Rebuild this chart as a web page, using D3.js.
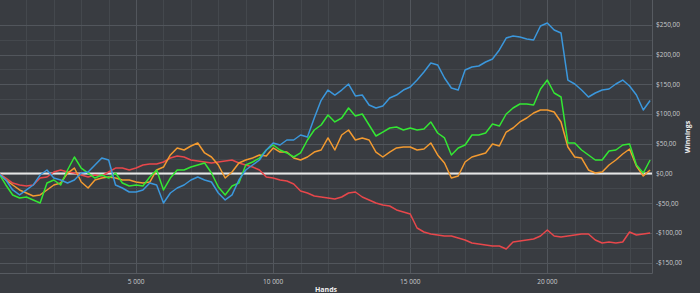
<!DOCTYPE html>
<html>
<head>
<meta charset="utf-8">
<script src="https://cdn.jsdelivr.net/npm/d3@7"></script>
<style>
  body { margin: 0; background: #393c41; }
  svg { display: block; }
  .tick-label { font-family: 'Open Sans', sans-serif; font-size: 6.5px; fill: #c9cbcd; }
  .axis-title { font-family: 'Open Sans', sans-serif; font-size: 7px; font-weight: bold; fill: #f0f0f0; }
</style>
</head>
<body>
<svg width="700" height="293"></svg>
<script>
var svg = d3.select('svg');
var svgWidth = +svg.attr('width');
var svgHeight = +svg.attr('height');

// plot box
var plot = {l: 0, t: 0, r: 652, b: 273};

// hands, sampled every 250 hands
var hands = d3.range(0, 24000, 250);

var blueWin = [0, -10.9, -27.7, -36, -27.7, -19.3, -2.5, 5.9, -7.6, -10.9,
  -16, -10.9, 0.8, 2.5, 14.3, 26, 22.7, -19.3, -24.4, -31.1,
  -31.1, -27.7, -16, -19.3, -49.6, -32.8, -24.4, -19.3, -10.9, -5.9,
  -10.9, -14.3, -32.8, -44.5, -36, -10.9, 5.9, 14.3, 22.7, 39.5,
  51.3, 47.9, 56.3, 56.3, 64.7, 61.3, 93.3, 123, 140.3, 131.9,
  140.3, 150.4, 130.3, 131.9, 115.1, 110, 113.4, 126.9, 131.9, 140.3,
  145.4, 157.1, 170.6, 185.7, 182.4, 160.5, 143.7, 140.3, 173.9, 179,
  180.7, 187.4, 192.4, 207.6, 227.7, 231.1, 229.4, 226.1, 224.4, 247.9,
  252.9, 241.2, 236.1, 157.1, 150.4, 140.3, 128.6, 135.3, 140.3, 142,
  150.4, 157.1, 147.1, 131.9, 106.7, 122.7];

var greenWin = [0, -19.3, -36.1, -41.2, -39.5, -44.5, -49.6, -16, -10.9, -19.3,
  5.9, 27.7, 9.2, 0.8, -7.6, -2.5, -7.6, 0.8, -16, -21,
  -19.3, -21, -5.9, 5.9, -27.7, -7.6, 5.9, 5.9, 10.9, 14.3,
  17.6, 0.8, -22.7, -36.1, -21, -16, 14.3, 19.3, 26, 39.5,
  47.9, 39.5, 34.5, 27.7, 34.5, 56.3, 73.1, 81.5, 98.3, 86.6,
  93.3, 110.1, 96.6, 100, 81.5, 63, 69.7, 76.5, 78.2, 73.1,
  76.5, 73.1, 74.8, 86.6, 68.1, 59.7, 31.1, 42.9, 47.9, 64.7,
  64.7, 68.1, 83.2, 79.8, 100, 110.1, 116.8, 116.8, 115.1, 142,
  157.1, 135.3, 128.6, 51.3, 51.3, 39.5, 31.1, 22.7, 22.7, 37.8,
  39.5, 47.9, 49.6, 14.3, 0.8, 22.7];

var orangeWin = [0, -10.9, -19.3, -27.7, -32.8, -37.8, -36.1, -27.7, -19.3, -16,
  0.8, 9.2, -14.3, -24.4, -10.9, -7.6, -5.9, -7.6, -10.9, -10.9,
  -14.3, -16, -14.3, 5.9, 10.9, 31.1, 42.9, 39.5, 46.2, 51.3,
  34.5, 27.7, 14.3, -7.6, 2.5, 17.6, 22.7, 26, 31.1, 29.4,
  42.9, 36.1, 36.1, 26, 22.7, 27.7, 36.1, 39.5, 59.7, 39.5,
  64.7, 73.1, 56.3, 59.7, 56.3, 36.1, 27.7, 36.1, 42.9, 44.5,
  44.5, 39.5, 41.2, 51.3, 31.1, 17.6, -7.6, -4.2, 19.3, 27.7,
  31.1, 34.5, 49.6, 46.2, 69.7, 76.5, 86.6, 93.3, 101.7, 106.7,
  106.7, 103.4, 86.6, 44.5, 27.7, 26, 5.9, 0.8, 2.5, 14.3,
  22.7, 32.8, 41.2, 12.6, -4.2, 5.9];

var redWin = [0, -7.6, -16, -19.3, -21, -19.3, -7.6, -5.9, 2.5, 5.9,
  2.5, 0.8, -2.5, -5.9, -2.5, -4.2, 2.5, 9.2, 9.2, 5.9,
  9.2, 14.3, 16, 16, 19.3, 26, 29.4, 27.7, 22.7, 21,
  19.3, 17.6, 19.3, 21, 22.7, 17.6, 14.3, 10.9, 5.9, -5.9,
  -7.6, -10.9, -12.6, -17.6, -29.4, -32.8, -37.8, -39.5, -41.2, -42.9,
  -39.5, -32.8, -31.1, -39.5, -44.5, -49.6, -52.9, -54.6, -61.3, -64.7,
  -68.1, -91.6, -98.3, -101.7, -103.4, -105, -105, -108.4, -111.8, -116.8,
  -118.5, -120.2, -121.8, -121.8, -126.9, -115.1, -113.4, -111.8, -110.1, -105,
  -95, -105, -106.7, -105, -103.4, -101.7, -101.7, -111.8, -116.8, -115.1,
  -116.8, -115.1, -98.3, -103.4, -101.7, -100];

var seriesNames = ['red', 'orange', 'green', 'blue'];
var seriesColors = ['#e8474b', '#f39a30', '#33e733', '#3b97dc'];
var seriesValues = [redWin, orangeWin, greenWin, blueWin];

var yTicks = [-150, -100, -50, 0, 50, 100, 150, 200, 250];
var xTicks = [5000, 10000, 15000, 20000];

var xScale = d3.scaleLinear().domain([0, 23800]).range([-1, plot.r - 0.5]);
var yScale = d3.scaleLinear().domain([-150, 250]).range([262.75, 24.75]);

svg.append('rect')
    .attr('width', svgWidth).attr('height', svgHeight)
    .attr('fill', '#393c41');

var gridG = svg.append('g').attr('class', 'grid');

// verticals every 1000 hands, brighter every 5000
gridG.selectAll('.vline')
    .data(d3.range(1000, 24000, 1000))
    .enter().append('line')
    .attr('x1', function(d){ return Math.round(xScale(d)) + 0.5; })
    .attr('x2', function(d){ return Math.round(xScale(d)) + 0.5; })
    .attr('y1', plot.t).attr('y2', plot.b)
    .attr('stroke', function(d){ return d % 5000 === 0 ? '#52565c' : '#44484d'; })
    .attr('stroke-width', 1);

// horizontal grid every $25
gridG.selectAll('.hline')
    .data(d3.range(-150, 275, 25))
    .enter().append('line')
    .attr('x1', plot.l).attr('x2', plot.r)
    .attr('y1', function(d){ return Math.round(yScale(d)) + 0.5; })
    .attr('y2', function(d){ return Math.round(yScale(d)) + 0.5; })
    .attr('stroke', function(d){ return d % 50 === 0 ? '#52565c' : '#44484d'; })
    .attr('stroke-width', 1);

// frame (right + bottom)
svg.append('path')
    .attr('d', 'M' + (plot.r + 0.5) + ',' + plot.t + 'V' + (plot.b + 0.5) + 'H' + plot.l)
    .attr('fill', 'none')
    .attr('stroke', '#575b61')
    .attr('stroke-width', 1);

// zero line
svg.append('line')
    .attr('x1', plot.l).attr('x2', plot.r)
    .attr('y1', yScale(0)).attr('y2', yScale(0))
    .attr('stroke', '#e6e6e6')
    .attr('stroke-width', 2);

var line = d3.line()
    .x(function(d, i){ return xScale(hands[i]); })
    .y(function(d){ return yScale(d); });

svg.append('g').selectAll('.series')
    .data(seriesValues)
    .enter().append('path')
    .attr('class', function(d, i){ return 'series ' + seriesNames[i]; })
    .attr('d', line)
    .attr('fill', 'none')
    .attr('stroke', function(d, i){ return seriesColors[i]; })
    .attr('stroke-width', 1.5)
    .attr('stroke-linejoin', 'round');

// y labels on the right
var fmtMoney = function(v){
    var s = '$' + Math.abs(v) + ',00';
    return v < 0 ? '-' + s : s;
};
svg.selectAll('.ylab')
    .data(yTicks)
    .enter().append('text')
    .attr('class', 'tick-label')
    .attr('x', 656)
    .attr('y', function(d){ return yScale(d) + 2.3; })
    .text(fmtMoney);

// x labels
svg.selectAll('.xlab')
    .data(xTicks)
    .enter().append('text')
    .attr('class', 'tick-label')
    .attr('text-anchor', 'middle')
    .attr('x', function(d){ return xScale(d); })
    .attr('y', 283.5)
    .text(function(d){ return d3.format(',')(d).replace(',', ' '); });

svg.append('text')
    .attr('class', 'axis-title')
    .attr('text-anchor', 'middle')
    .attr('x', 326)
    .attr('y', 291.5)
    .text('Hands');

svg.append('text')
    .attr('class', 'axis-title')
    .attr('text-anchor', 'middle')
    .attr('transform', 'translate(690,137)rotate(-90)')
    .text('Winnings');
</script>
</body>
</html>
